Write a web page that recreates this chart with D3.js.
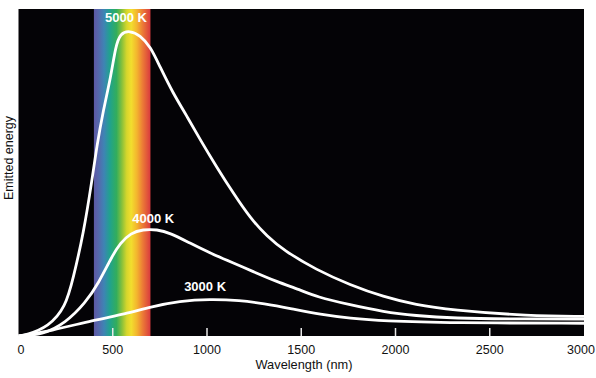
<!DOCTYPE html>
<html>
<head>
<meta charset="utf-8">
<script src="https://cdn.jsdelivr.net/npm/d3@7"></script>
<style>
  body { margin: 0; background: #fff; }
  svg { display: block; font-family: "Liberation Sans", Arial, sans-serif; }
</style>
</head>
<body>
<svg width="596" height="378"></svg>
<script>
// wavelength (nm) and relative emitted energy
const wl5000 = [0, 40, 160, 250, 290, 345, 390, 415, 450, 490, 515, 540, 590, 645, 700, 750, 820, 895, 965, 1050, 1140, 1230, 1320, 1405, 1580, 1760, 1935, 2110, 2290, 2710, 3000];
const e5000 = [0, 0.3, 2.8, 8.9, 17.6, 31.4, 47.7, 57.9, 69.1, 79.3, 88.5, 92.6, 93.4, 92.0, 88.5, 82.4, 74.2, 67.1, 59.9, 51.8, 43.6, 36.0, 30.4, 26.3, 20.2, 15.6, 12.0, 9.5, 8.0, 6.1, 6.0];

const wl4000 = [0, 125, 250, 355, 425, 495, 540, 595, 660, 735, 805, 910, 1015, 1140, 1245, 1370, 1495, 1580, 1760, 1935, 2110, 2290, 2710, 3000];
const e4000 = [0, 0.3, 4.0, 10.1, 16.2, 24.3, 28.4, 31.5, 32.6, 32.6, 31.5, 28.4, 25.4, 22.3, 19.7, 16.6, 14.1, 12.0, 9.5, 7.4, 6.2, 5.4, 5.2, 5.2];

const wl3000 = [0, 170, 400, 565, 700, 855, 1015, 1175, 1300, 1450, 1600, 1760, 1935, 2290, 3000];
const e3000 = [0, 1.5, 4.9, 6.7, 8.9, 10.7, 11.3, 10.9, 9.9, 8.3, 6.6, 5.4, 4.6, 4.0, 3.9];

const tickValues = [0, 500, 1000, 1500, 2000, 2500, 3000];
const visible = [400, 700];

const series = [
  { label: "5000 K", wl: wl5000, e: e5000, lx: 570, ly: 96 },
  { label: "4000 K", wl: wl4000, e: e4000, lx: 715, ly: 34.7 },
  { label: "3000 K", wl: wl3000, e: e3000, lx: 990, ly: 13.8 }
];

const svg = d3.select("svg");
const x = d3.scaleLinear().domain([0, 3000]).range([18.5, 584]);
const y = d3.scaleLinear().domain([0, 100]).range([336, 9]);

// plot background
svg.append("rect")
  .attr("x", x(0)).attr("y", y(100))
  .attr("width", x(3000) - x(0)).attr("height", y(0) - y(100))
  .attr("fill", "#040306");

// visible spectrum band
const grad = svg.append("defs").append("linearGradient")
  .attr("id", "spec").attr("x1", "0%").attr("x2", "100%");
[["0%", "#5d58a4"], ["8%", "#5668ac"], ["18%", "#3e84b4"], ["28%", "#20a28e"], ["40%", "#33ad5c"],
 ["50%", "#8cc23a"], ["58%", "#d6d62c"], ["66%", "#f2de2e"], ["76%", "#f3b52e"], ["86%", "#ec7c36"], ["100%", "#d93a3e"]]
  .forEach(s => grad.append("stop").attr("offset", s[0]).attr("stop-color", s[1]));

svg.append("rect")
  .attr("x", x(visible[0])).attr("y", y(100))
  .attr("width", x(visible[1]) - x(visible[0])).attr("height", y(0) - y(100))
  .attr("fill", "url(#spec)");

// tick marks inside the plot
svg.selectAll("line.tick")
  .data(tickValues.filter(d => d > 0 && d < 3000))
  .join("line")
  .attr("x1", d => x(d)).attr("x2", d => x(d))
  .attr("y1", y(0) - 8).attr("y2", y(0))
  .attr("stroke", "#e8e8e8").attr("stroke-width", 1.5);

// curves
const line = d3.line()
  .x(d => x(d[0]))
  .y(d => y(d[1]))
  .curve(d3.curveBasis);

svg.selectAll("path.curve")
  .data(series)
  .join("path")
  .attr("d", s => line(s.wl.map((w, i) => [w, s.e[i]])))
  .attr("fill", "none")
  .attr("stroke", "#fff")
  .attr("stroke-width", 2.8);

svg.selectAll("text.lab")
  .data(series)
  .join("text")
  .attr("x", s => x(s.lx))
  .attr("y", s => y(s.ly))
  .attr("text-anchor", "middle")
  .attr("fill", "#fff")
  .attr("font-weight", "bold")
  .attr("font-size", 13)
  .text(s => s.label);

// tick labels
svg.selectAll("text.tl")
  .data(tickValues)
  .join("text")
  .attr("x", d => Math.min(Math.max(x(d), 21), 581))
  .attr("y", 354)
  .attr("text-anchor", "middle")
  .attr("font-size", 12.5)
  .attr("fill", "#111")
  .text(d => d);

svg.append("text")
  .attr("x", 304).attr("y", 369)
  .attr("text-anchor", "middle")
  .attr("font-size", 12.8)
  .attr("fill", "#111")
  .text("Wavelength (nm)");

svg.append("text")
  .attr("transform", "translate(13,158) rotate(-90)")
  .attr("text-anchor", "middle")
  .attr("font-size", 12.5)
  .attr("fill", "#111")
  .text("Emitted energy");
</script>
</body>
</html>
